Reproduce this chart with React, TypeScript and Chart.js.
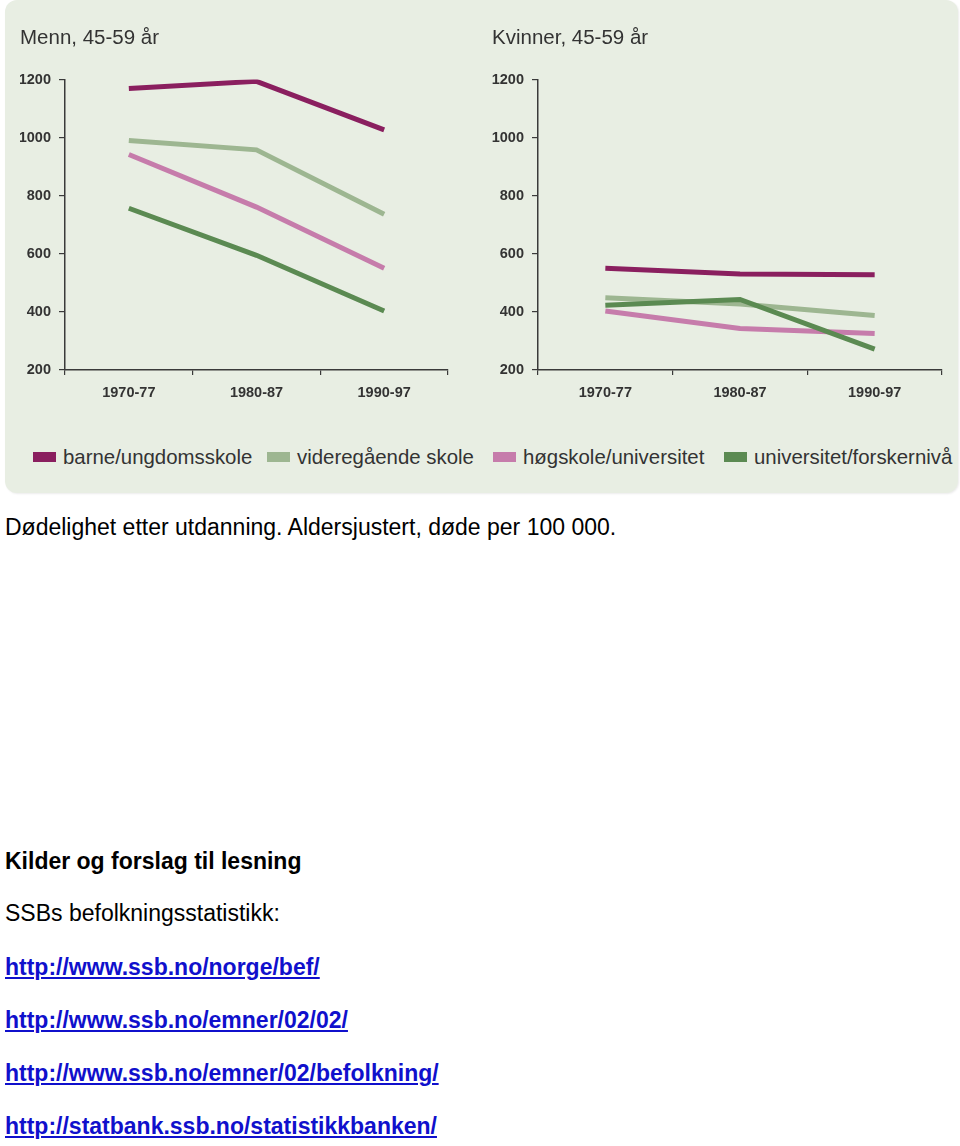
import React, { useEffect, useRef } from "react";
import { Chart, registerables } from "chart.js";

Chart.register(...registerables);

const periods = ["1970-77", "1980-87", "1990-97"];
const seriesNames = [
  "barne/ungdomsskole",
  "videregående skole",
  "høgskole/universitet",
  "universitet/forskernivå",
];
const seriesColors = ["#8a1f5f", "#9db691", "#c67cab", "#5b8a52"];

// Menn, 45-59 år
const menBarne = [1169, 1194, 1027];
const menVidere = [990, 958, 736];
const menHogskole = [942, 761, 550];
const menUniversitet = [757, 595, 403];

// Kvinner, 45-59 år
const womenBarne = [550, 531, 528];
const womenVidere = [449, 427, 388];
const womenHogskole = [403, 343, 326];
const womenUniversitet = [423, 443, 272];

const yMin = 200;
const yMax = 1200;
const yStep = 200;

const FONT = "'Liberation Sans', Arial, Helvetica, sans-serif";
const TEXT = "#333333";
const AXIS = "#3a3a3a";

function makeConfig(
  title: string,
  values: number[][],
  padLeft: number,
  padRight: number,
  yWidth: number
): any {
  return {
    type: "line",
    data: {
      labels: periods,
      datasets: values.map((v, i) => ({
        label: seriesNames[i],
        data: v,
        borderColor: seriesColors[i],
        backgroundColor: seriesColors[i],
        borderWidth: 5,
        borderCapStyle: "butt",
        borderJoinStyle: "miter",
        pointRadius: 0,
        tension: 0,
        fill: false,
        order: values.length - i,
      })),
    },
    options: {
      animation: false,
      responsive: false,
      maintainAspectRatio: false,
      layout: { padding: { left: padLeft, right: padRight, top: 0, bottom: 0 } },
      plugins: {
        legend: { display: false },
        tooltip: { enabled: false },
        title: {
          display: true,
          text: title,
          align: "start",
          color: TEXT,
          font: { family: FONT, size: 20.5, weight: "normal", lineHeight: 1.2 },
          padding: { top: 26, bottom: 29 },
        },
      },
      scales: {
        x: {
          type: "category",
          offset: true,
          afterFit: (s: any) => {
            s.height = 50;
          },
          border: { display: true, color: AXIS, width: 1.5 },
          grid: {
            display: true,
            offset: true,
            drawOnChartArea: false,
            drawTicks: true,
            tickLength: 5,
            color: AXIS,
            lineWidth: 1.2,
          },
          ticks: {
            color: TEXT,
            padding: 9,
            font: { family: FONT, size: 14.5, weight: "bold" },
            maxRotation: 0,
          },
        },
        y: {
          min: yMin,
          max: yMax,
          afterFit: (s: any) => {
            s.width = yWidth;
          },
          border: { display: true, color: AXIS, width: 1.5 },
          grid: {
            display: true,
            drawOnChartArea: false,
            drawTicks: true,
            tickLength: 6,
            color: AXIS,
            lineWidth: 1.2,
          },
          ticks: {
            stepSize: yStep,
            color: TEXT,
            padding: 8,
            font: { family: FONT, size: 14.5, weight: "bold" },
            callback: (v: any) => String(v),
          },
        },
      },
    },
  };
}

function LineChart(props: {
  title: string;
  values: number[][];
  padLeft: number;
  padRight: number;
  yWidth: number;
  width: number;
  height: number;
  style: React.CSSProperties;
}) {
  const ref = useRef<HTMLCanvasElement | null>(null);
  useEffect(() => {
    if (!ref.current) return;
    const chart = new Chart(
      ref.current,
      makeConfig(props.title, props.values, props.padLeft, props.padRight, props.yWidth)
    );
    return () => chart.destroy();
  }, []);
  return (
    <canvas
      ref={ref}
      width={props.width}
      height={props.height}
      style={{ ...props.style, width: props.width, height: props.height }}
    />
  );
}

const legendLefts = [33, 267, 493, 724];

export default function App() {
  const textStyle: React.CSSProperties = {
    position: "absolute",
    left: 5,
    fontFamily: FONT,
    fontSize: 23,
    lineHeight: "26px",
    color: "#000",
    whiteSpace: "nowrap",
  };
  const linkStyle: React.CSSProperties = {
    ...textStyle,
    fontWeight: "bold",
    color: "#1010cc",
    textDecoration: "underline",
  };
  return (
    <div style={{ position: "absolute", left: 0, top: 0, width: 960, height: 1146, background: "#fff" }}>
      <div
        style={{
          position: "absolute",
          left: 5,
          top: 0,
          width: 953,
          height: 493,
          background: "#e8eee3",
          borderRadius: 12,
          boxShadow: "1px 1px 2px rgba(0,0,0,0.08)",
        }}
      />
      <LineChart
        title="Menn, 45-59 år"
        values={[menBarne, menVidere, menHogskole, menUniversitet]}
        padLeft={15}
        padRight={32}
        yWidth={45}
        width={475}
        height={420}
        style={{ position: "absolute", left: 5, top: 0 }}
      />
      <LineChart
        title="Kvinner, 45-59 år"
        values={[womenBarne, womenVidere, womenHogskole, womenUniversitet]}
        padLeft={12}
        padRight={16}
        yWidth={46}
        width={478}
        height={420}
        style={{ position: "absolute", left: 480, top: 0 }}
      />
      {seriesNames.map((name, i) => (
        <div
          key={name}
          style={{
            position: "absolute",
            left: legendLefts[i],
            top: 445,
            height: 24,
            display: "flex",
            alignItems: "center",
            fontFamily: FONT,
            fontSize: 20.4,
            lineHeight: "24px",
            color: TEXT,
            whiteSpace: "nowrap",
          }}
        >
          <span
            style={{
              display: "inline-block",
              width: 23,
              height: 10,
              background: seriesColors[i],
              marginRight: 7,
            }}
          />
          <span>{name}</span>
        </div>
      ))}
      <div style={{ ...textStyle, top: 514 }}>
        Dødelighet etter utdanning. Aldersjustert, døde per 100 000.
      </div>
      <div style={{ ...textStyle, top: 848, fontWeight: "bold" }}>Kilder og forslag til lesning</div>
      <div style={{ ...textStyle, top: 900 }}>SSBs befolkningsstatistikk:</div>
      <a href="http://www.ssb.no/norge/bef/" style={{ ...linkStyle, top: 954 }}>
        http://www.ssb.no/norge/bef/
      </a>
      <a href="http://www.ssb.no/emner/02/02/" style={{ ...linkStyle, top: 1007 }}>
        http://www.ssb.no/emner/02/02/
      </a>
      <a href="http://www.ssb.no/emner/02/befolkning/" style={{ ...linkStyle, top: 1060 }}>
        http://www.ssb.no/emner/02/befolkning/
      </a>
      <a href="http://statbank.ssb.no/statistikkbanken/" style={{ ...linkStyle, top: 1113 }}>
        http://statbank.ssb.no/statistikkbanken/
      </a>
    </div>
  );
}
